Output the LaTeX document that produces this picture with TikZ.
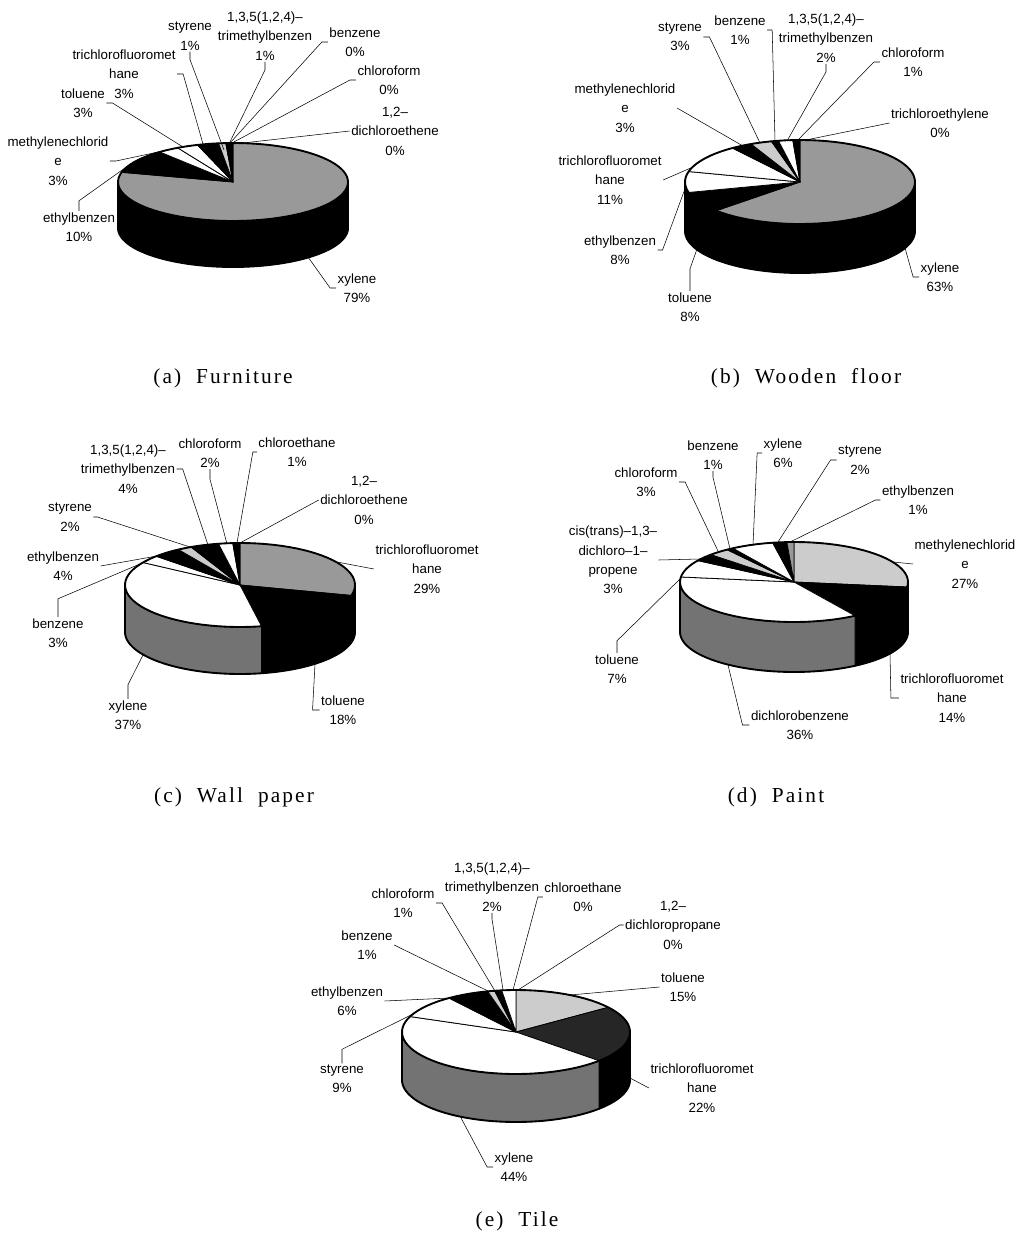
\documentclass[tikz,border=0pt]{standalone}
\usepackage{fontspec}
\setmainfont{Liberation Sans}
\newfontfamily\capfont[LetterSpace=10]{Liberation Serif}
\colorlet{piegray}{black!40}
\colorlet{pielight}{black!20}
\colorlet{piehatch}{black!55}
\tikzset{
  lbl/.style={font=\fontsize{10}{14.6}\selectfont, align=center, inner sep=1pt},
  leader/.style={line width=0.4pt},
  slice/.style={line width=0.6pt, line join=round},
  rim/.style={line width=1.4pt, line join=round},
  captext/.style={font=\capfont\fontsize{16}{18}\selectfont}
}
% top wedge: start angle, end angle, fill
\newcommand{\pietop}[3]{\filldraw[slice, fill=#3] (\pcx,\pcy) -- plot[domain=#1:#2, samples=40] ({\pcx+\prx*cos(\x)},{\pcy-\pry*sin(\x)}) -- cycle;}
% side band: start angle, end angle, fill
\newcommand{\pieside}[3]{\filldraw[slice, fill=#3] plot[domain=#1:#2, samples=40] ({\pcx+\prx*cos(\x)},{\pcy-\pry*sin(\x)}) -- plot[domain=#2:#1, samples=40] ({\pcx+\prx*cos(\x)},{\pcy+\pdep-\pry*sin(\x)}) -- cycle;}
% thick outline
\newcommand{\pierim}{%
  \draw[rim] plot[domain=0:360, samples=90] ({\pcx+\prx*cos(\x)},{\pcy-\pry*sin(\x)}) -- cycle;
  \draw[rim] (\pcx-\prx,\pcy) -- ++(0,\pdep) plot[domain=180:360, samples=60] ({\pcx+\prx*cos(\x)},{\pcy+\pdep-\pry*sin(\x)}) -- ++(0,-\pdep);}
\begin{document}
\begin{tikzpicture}[x=0.75pt, y=-0.75pt]
\useasboundingbox (0,0) rectangle (1021,1241);

% (a) Furniture
\def\pcx{233}\def\pcy{182}\def\prx{115}\def\pry{39}\def\pdep{46}
\pieside{-180}{0}{black}
\foreach \s/\e/\f in {90/-194.4/piegray, -194.4/-230.4/black, -230.4/-241.2/white, -241.2/-252/white, -252/-262.8/black, -262.8/-266.4/pielight, -266.4/-270/black}
  {\pietop{\s}{\e}{\f}}
\pierim
\node[lbl] (a-tmb) at (265,36) {1,3,5(1,2,4)--\\trimethylbenzen\\1\%};
\node[lbl] (a-sty) at (190,36) {styrene\\1\%};
\node[lbl] (a-tcf) at (124,74) {trichlorofluoromet\\hane\\3\%};
\node[lbl] (a-tol) at (83,103) {toluene\\3\%};
\node[lbl] (a-mec) at (58,161) {methylenechlorid\\e\\3\%};
\node[lbl] (a-eth) at (79,227) {ethylbenzen\\10\%};
\node[lbl] (a-xyl) at (357,288) {xylene\\79\%};
\node[lbl] (a-ben) at (355,42) {benzene\\0\%};
\node[lbl] (a-chl) at (389,80) {chloroform\\0\%};
\node[lbl] (a-dce) at (395,131) {1,2--\\dichloroethene\\0\%};
\coordinate (pa-tmb) at (229,144);
\coordinate (pa-sty) at (224,150);
\coordinate (pa-tcf) at (203,144);
\coordinate (pa-tol) at (183,147);
\coordinate (pa-mec) at (163,151);
\coordinate (pa-eth) at (125,168);
\coordinate (pa-xyl) at (308,257);
\coordinate (pa-ben) at (230,143);
\coordinate (pa-chl) at (232,143);
\coordinate (pa-dce) at (234,144);
\draw[leader] (a-tmb.south) -- ++(0,8) -- (pa-tmb);
\draw[leader] (a-sty.south) -- ++(0,8) -- (pa-sty);
\draw[leader] (a-tcf.east) -- ++(6,0) -- (pa-tcf);
\draw[leader] (a-tol.east) -- ++(6,0) -- (pa-tol);
\draw[leader] (a-mec.east) -- ++(6,0) -- (pa-mec);
\draw[leader] (a-eth.north) -- ++(0,-10) -- (pa-eth);
\draw[leader] (a-xyl.west) -- ++(-6,0) -- (pa-xyl);
\draw[leader] (a-ben.west) -- ++(-6,0) -- (pa-ben);
\draw[leader] (a-chl.west) -- ++(-6,0) -- (pa-chl);
\draw[leader] (a-dce.west) -- (pa-dce);
\node[captext] (cap-a) at (223,378) {(a)~ Furniture};

% (b) Wooden floor
\def\pcx{800}\def\pcy{182}\def\prx{115}\def\pry{42}\def\pdep{49}
\pieside{-136.8}{0}{black}
\pieside{-180}{-136.8}{black}
\foreach \s/\e/\f in {90/-136.8/piegray, -136.8/-165.6/black, -165.6/-194.4/white, -194.4/-234/white, -234/-244.8/black, -244.8/-255.6/pielight, -255.6/-259.2/black, -259.2/-266.4/white, -266.4/-270/black}
  {\pietop{\s}{\e}{\f}}
\pierim
\node[lbl] (b-sty) at (680,37) {styrene\\3\%};
\node[lbl] (b-ben) at (740,30) {benzene\\1\%};
\node[lbl] (b-tmb) at (826,38) {1,3,5(1,2,4)--\\trimethylbenzen\\2\%};
\node[lbl] (b-chl) at (913,62) {chloroform\\1\%};
\node[lbl] (b-tce) at (940,123) {trichloroethylene\\0\%};
\node[lbl] (b-mec) at (625,108) {methylenechlorid\\e\\3\%};
\node[lbl] (b-tcf) at (610,180) {trichlorofluoromet\\hane\\11\%};
\node[lbl] (b-eth) at (620,250) {ethylbenzen\\8\%};
\node[lbl] (b-tol) at (690,307) {toluene\\8\%};
\node[lbl] (b-xyl) at (940,277) {xylene\\63\%};
\coordinate (pb-sty) at (760,143);
\coordinate (pb-ben) at (775,141);
\coordinate (pb-tmb) at (787,141);
\coordinate (pb-chl) at (797,141);
\coordinate (pb-tce) at (801,141);
\coordinate (pb-mec) at (743,146);
\coordinate (pb-tcf) at (693,167);
\coordinate (pb-eth) at (686,186);
\coordinate (pb-tol) at (697,249);
\coordinate (pb-xyl) at (905,248);
\draw[leader] (b-sty.east) -- ++(6,0) -- (pb-sty);
\draw[leader] (b-ben.east) -- ++(5,0) -- (pb-ben);
\draw[leader] (b-tmb.south) -- ++(0,8) -- (pb-tmb);
\draw[leader] (b-chl.west) -- ++(-6,0) -- (pb-chl);
\draw[leader] (b-tce.west) -- (pb-tce);
\draw[leader] (b-mec.east) -- (pb-mec);
\draw[leader] (b-tcf.east) -- (pb-tcf);
\draw[leader] (b-eth.east) -- ++(5,0) -- (pb-eth);
\draw[leader] (b-tol.north) -- ++(0,-22) -- (pb-tol);
\draw[leader] (b-xyl.west) -- ++(-6,0) -- (pb-xyl);
\node[captext] (cap-b) at (806,378) {(b)~ Wooden~ floor};

% (c) Wall paper
\def\pcx{240}\def\pcy{585}\def\prx{115}\def\pry{42}\def\pdep{47}
\pieside{-14.4}{0}{black}
\pieside{-79.2}{-14.4}{black}
\pieside{-180}{-79.2}{piehatch}
\foreach \s/\e/\f in {90/-14.4/piegray, -14.4/-79.2/black, -79.2/-212.4/white, -212.4/-223.2/white, -223.2/-237.6/black, -237.6/-244.8/pielight, -244.8/-259.2/black, -259.2/-266.4/white, -266.4/-270/black}
  {\pietop{\s}{\e}{\f}}
\pierim
\node[lbl] (c-tmb) at (128,469) {1,3,5(1,2,4)--\\trimethylbenzen\\4\%};
\node[lbl] (c-chl) at (210,453) {chloroform\\2\%};
\node[lbl] (c-cle) at (297,452) {chloroethane\\1\%};
\node[lbl] (c-dce) at (364,500) {1,2--\\dichloroethene\\0\%};
\node[lbl] (c-tcf) at (427,569) {trichlorofluoromet\\hane\\29\%};
\node[lbl] (c-sty) at (70,517) {styrene\\2\%};
\node[lbl] (c-eth) at (63,566) {ethylbenzen\\4\%};
\node[lbl] (c-ben) at (58,633) {benzene\\3\%};
\node[lbl] (c-xyl) at (128,715) {xylene\\37\%};
\node[lbl] (c-tol) at (343,710) {toluene\\18\%};
\coordinate (pc-tmb) at (208,545);
\coordinate (pc-chl) at (227,544);
\coordinate (pc-cle) at (237,543);
\coordinate (pc-dce) at (240,543);
\coordinate (pc-tcf) at (337,562);
\coordinate (pc-sty) at (190,547);
\coordinate (pc-eth) at (157,556);
\coordinate (pc-ben) at (147,561);
\coordinate (pc-xyl) at (143,655);
\coordinate (pc-tol) at (315,664);
\draw[leader] (c-tmb.east) -- ++(6,0) -- (pc-tmb);
\draw[leader] (c-chl.south) -- ++(0,10) -- (pc-chl);
\draw[leader] (c-cle.west) -- ++(-4,0) -- (pc-cle);
\draw[leader] (c-dce.west) -- (pc-dce);
\draw[leader] (c-tcf.west) -- (pc-tcf);
\draw[leader] (c-sty.east) -- ++(4,0) -- (pc-sty);
\draw[leader] (c-eth.east) -- (pc-eth);
\draw[leader] (c-ben.north) -- ++(0,-18) -- (pc-ben);
\draw[leader] (c-xyl.north) -- ++(0,-14) -- (pc-xyl);
\draw[leader] (c-tol.west) -- ++(-7,0) -- (pc-tol);
\node[captext] (cap-c) at (234,797) {(c)~ Wall~ paper};

% (d) Paint
\def\pcx{794}\def\pcy{582}\def\prx{114}\def\pry{40}\def\pdep{50}
\pieside{-7.2}{0}{black}
\pieside{-57.6}{-7.2}{black}
\pieside{-180}{-57.6}{piehatch}
\foreach \s/\e/\f in {90/-7.2/pielight, -7.2/-57.6/black, -57.6/-187.2/white, -187.2/-212.4/white, -212.4/-223.2/black, -223.2/-234/pielight, -234/-237.6/black, -237.6/-259.2/white, -259.2/-266.4/black, -266.4/-270/piegray}
  {\pietop{\s}{\e}{\f}}
\pierim
\node[lbl] (d-ben) at (713,455) {benzene\\1\%};
\node[lbl] (d-xyl) at (783,453) {xylene\\6\%};
\node[lbl] (d-sty) at (860,460) {styrene\\2\%};
\node[lbl] (d-eth) at (918,500) {ethylbenzen\\1\%};
\node[lbl] (d-chl) at (646,482) {chloroform\\3\%};
\node[lbl] (d-cis) at (613,560) {cis(trans)--1,3--\\dichloro--1--\\propene\\3\%};
\node[lbl] (d-mec) at (965,564) {methylenechlorid\\e\\27\%};
\node[lbl] (d-tol) at (617,669) {toluene\\7\%};
\node[lbl] (d-tcf) at (952,698) {trichlorofluoromet\\hane\\14\%};
\node[lbl] (d-dcb) at (800,725) {dichlorobenzene\\36\%};
\coordinate (pd-ben) at (730,549);
\coordinate (pd-xyl) at (753,545);
\coordinate (pd-sty) at (778,542);
\coordinate (pd-eth) at (790,542);
\coordinate (pd-chl) at (718,551);
\coordinate (pd-cis) at (700,559);
\coordinate (pd-mec) at (893,562);
\coordinate (pd-tol) at (681,578);
\coordinate (pd-tcf) at (890,654);
\coordinate (pd-dcb) at (728,665);
\draw[leader] (d-ben.south) -- ++(0,6) -- (pd-ben);
\draw[leader] (d-xyl.west) -- ++(-5,0) -- (pd-xyl);
\draw[leader] (d-sty.west) -- ++(-6,0) -- (pd-sty);
\draw[leader] (d-eth.west) -- ++(-5,0) -- (pd-eth);
\draw[leader] (d-chl.east) -- ++(6,0) -- (pd-chl);
\draw[leader] (d-cis.east) -- (pd-cis);
\draw[leader] (d-mec.west) -- (pd-mec);
\draw[leader] (d-tol.north) -- ++(0,-12) -- (pd-tol);
\draw[leader] (d-tcf.west) -- ++(-8,0) -- (pd-tcf);
\draw[leader] (d-dcb.west) -- ++(-7,0) -- (pd-dcb);
\node[captext] (cap-d) at (776,797) {(d)~ Paint};

% (e) Tile
\def\pcx{516}\def\pcy{1032}\def\prx{114}\def\pry{42}\def\pdep{48}
\pieside{-43.2}{0}{black}
\pieside{-180}{-43.2}{piehatch}
\foreach \s/\e/\f in {90/36/pielight, 36/-43.2/black!85, -43.2/-201.6/white, -201.6/-234/white, -234/-255.6/black, -255.6/-259.2/pielight, -259.2/-262.8/black, -262.8/-270/white}
  {\pietop{\s}{\e}{\f}}
\pierim
\node[lbl] (e-tmb) at (492,887) {1,3,5(1,2,4)--\\trimethylbenzen\\2\%};
\node[lbl] (e-chl) at (403,903) {chloroform\\1\%};
\node[lbl] (e-cle) at (583,897) {chloroethane\\0\%};
\node[lbl] (e-dcp) at (673,925) {1,2--\\dichloropropane\\0\%};
\node[lbl] (e-ben) at (367,945) {benzene\\1\%};
\node[lbl] (e-eth) at (347,1001) {ethylbenzen\\6\%};
\node[lbl] (e-tol) at (683,987) {toluene\\15\%};
\node[lbl] (e-sty) at (342,1079) {styrene\\9\%};
\node[lbl] (e-tcf) at (702,1088) {trichlorofluoromet\\hane\\22\%};
\node[lbl] (e-xyl) at (514,1167) {xylene\\44\%};
\coordinate (pe-tmb) at (503,990);
\coordinate (pe-chl) at (495,991);
\coordinate (pe-cle) at (513,990);
\coordinate (pe-dcp) at (518,990);
\coordinate (pe-ben) at (488,991);
\coordinate (pe-eth) at (450,998);
\coordinate (pe-tol) at (570,995);
\coordinate (pe-sty) at (413,1014);
\coordinate (pe-tcf) at (630,1078);
\coordinate (pe-xyl) at (460,1116);
\draw[leader] (e-tmb.south) -- ++(0,6) -- (pe-tmb);
\draw[leader] (e-chl.east) -- ++(6,0) -- (pe-chl);
\draw[leader] (e-cle.west) -- ++(-5,0) -- (pe-cle);
\draw[leader] (e-dcp.west) -- ++(-4,0) -- (pe-dcp);
\draw[leader] (e-ben.east) -- (pe-ben);
\draw[leader] (e-eth.east) -- (pe-eth);
\draw[leader] (e-tol.west) -- (pe-tol);
\draw[leader] (e-sty.north) -- ++(0,-14) -- (pe-sty);
\draw[leader] (e-tcf.west) -- (pe-tcf);
\draw[leader] (e-xyl.west) -- ++(-6,0) -- (pe-xyl);
\node[captext] (cap-e) at (517,1221) {(e)~ Tile};
\end{tikzpicture}
\end{document}
